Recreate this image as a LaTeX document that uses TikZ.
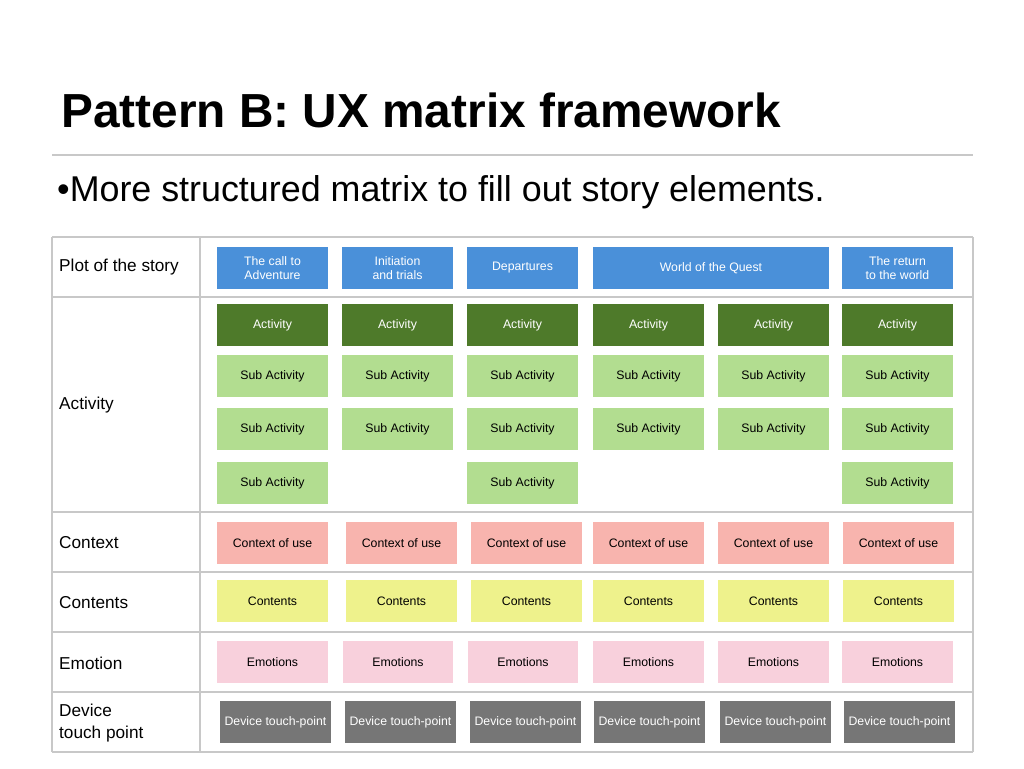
\documentclass[tikz,border=0pt]{standalone}
\usepackage{fontspec}
\setmainfont{Liberation Sans}
\usetikzlibrary{positioning}
\definecolor{plotblue}{HTML}{4A90D9}
\definecolor{actgreen}{HTML}{4E7A2A}
\definecolor{subgreen}{HTML}{B2DD90}
\definecolor{ctxsalmon}{HTML}{F8B4AE}
\definecolor{cntyellow}{HTML}{EEF28C}
\definecolor{emopink}{HTML}{F8D0DC}
\definecolor{devgray}{HTML}{767676}
\definecolor{gridgray}{HTML}{C8C8C8}

\begin{document}
\begin{tikzpicture}[
    x=0.02cm, y=-0.02cm,
    every node/.style={font=\fontsize{7}{8}\selectfont},
    cell/.style={fill=#1, minimum width=2.22cm, minimum height=0.84cm,
        inner sep=1pt, align=center},
    rowlabel/.style={anchor=west, align=left, font=\fontsize{9.8}{11.5}\selectfont},
    grid/.style={draw=gridgray, line width=0.8pt},
]
\useasboundingbox (0,0) rectangle (1024,768);

% Title
\node[anchor=west, font=\fontsize{27.2}{31}\selectfont\bfseries] (title) at (55,110) {Pattern B: UX matrix framework};
\draw[gridgray, line width=0.7pt] (52,155) -- (973,155);
\node[anchor=west, font=\fontsize{20.4}{24}\selectfont] (bullet) at (51,192) {\textbullet More structured matrix to fill out story elements.};

% Table grid
\foreach \y in {237,297,512,572,632,692,752}
    \draw[grid] (52,\y) -- (973,\y);
\foreach \x in {52,200,973}
    \draw[grid] (\x,237) -- (\x,752);

% Row labels
\node[rowlabel] (lplot) at (53,267) {Plot of the story};
\node[rowlabel] (lact) at (53,405) {Activity};
\node[rowlabel] (lctx) at (53,543) {Context};
\node[rowlabel] (lcnt) at (53,603) {Contents};
\node[rowlabel] (lemo) at (53,663) {Emotion};
\node[rowlabel, font=\fontsize{9.8}{12.5}\selectfont] (ldev) at (53,723) {Device\\touch point};

% Plot of the story
\node[cell=plotblue, text=white] (plot1) at (272.5,268) {The call to\\Adventure};
\node[cell=plotblue, text=white] (plot2) at (397.5,268) {Initiation\\and trials};
\node[cell=plotblue, text=white] (plot3) at (522.5,268) {Departures};
\node[cell=plotblue, text=white, minimum width=4.72cm] (plot4) at (711,268) {World of the Quest};
\node[cell=plotblue, text=white] (plot5) at (897.5,268) {The return\\to the world};

% Activities
\foreach \x [count=\i] in {272.5,397.5,522.5,648.5,773.5,897.5} {
    \node[cell=actgreen, text=white] (act\i) at (\x,325) {Activity};
    \node[cell=subgreen] (suba\i) at (\x,376) {Sub Activity};
    \node[cell=subgreen] (subb\i) at (\x,429) {Sub Activity};
}
\foreach \x [count=\i] in {272.5,522.5,897.5}
    \node[cell=subgreen] (subc\i) at (\x,483) {Sub Activity};

% Context and contents
\foreach \x [count=\i] in {272.5,401.5,526.5,648.5,773.5,898.5} {
    \node[cell=ctxsalmon] (ctx\i) at (\x,543) {Context of use};
    \node[cell=cntyellow] (cnt\i) at (\x,601) {Contents};
}

% Emotions
\foreach \x [count=\i] in {272.5,398,523,648.5,773.5,897.5}
    \node[cell=emopink] (emo\i) at (\x,662) {Emotions};

% Device touch points
\foreach \x [count=\i] in {275.5,400.5,525.5,649.5,775.5,899.5}
    \node[cell=devgray, text=white] (dev\i) at (\x,722) {Device touch-point};

\end{tikzpicture}
\end{document}
